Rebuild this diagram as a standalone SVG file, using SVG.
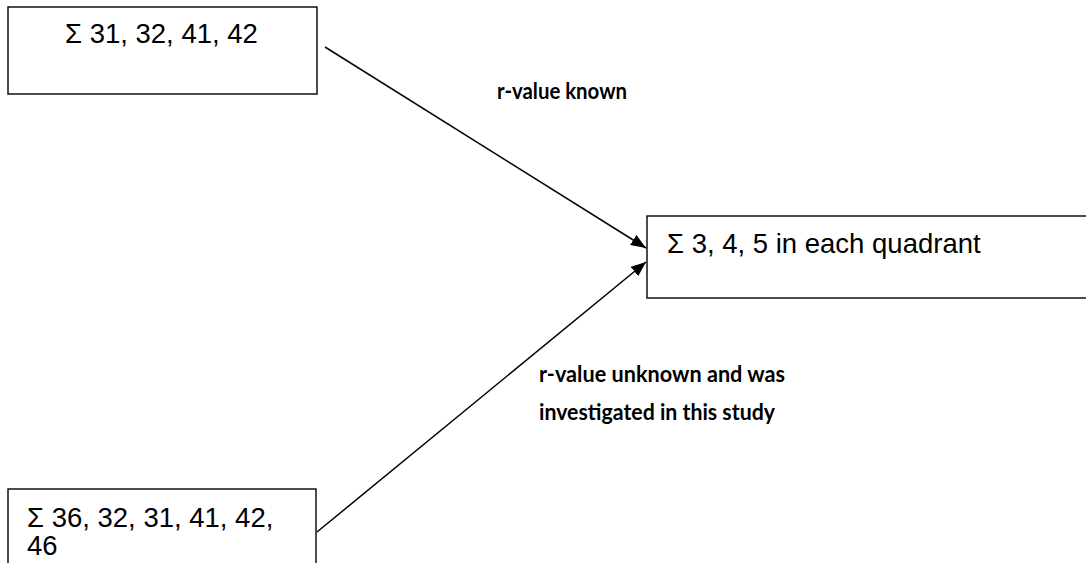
<svg xmlns="http://www.w3.org/2000/svg" width="1086" height="563" viewBox="0 0 1086 563">
<style>
.box{fill:#fff;stroke:#000;stroke-width:1.4}
.t{font-family:"Liberation Sans",Arial,sans-serif;font-size:27.5px;fill:#000}
.lbl{font-family:Lato,"Open Sans",sans-serif;font-weight:bold;font-size:22px;fill:#000}
.c{stroke:#000;stroke-width:1.5;fill:none;marker-end:url(#ah)}
</style>
<defs>
<marker id="ah" viewBox="0 0 15 12" refX="15" refY="6" markerWidth="15" markerHeight="12" markerUnits="userSpaceOnUse" orient="auto">
<path d="M0,0 L15,6 L0,12 Z" fill="#000"/>
</marker>
</defs>
<rect width="1086" height="563" fill="#fff"/>
<g id="connectors">
<line class="c" x1="325" y1="47" x2="646" y2="248"/>
<line class="c" x1="317" y1="532" x2="646" y2="262"/>
<text class="lbl" x="497" y="99" textLength="130" lengthAdjust="spacingAndGlyphs">r-value known</text>
<text class="lbl" x="539" y="382" textLength="246" lengthAdjust="spacingAndGlyphs">r-value unknown and was</text>
<text class="lbl" x="539" y="420" textLength="236" lengthAdjust="spacingAndGlyphs">investigated in this study</text>
</g>
<g id="node-top">
<rect class="box" x="8" y="7" width="309" height="87"/>
<text class="t" x="65" y="43">Σ 31, 32, 41, 42</text>
</g>
<g id="node-right">
<rect class="box" x="647" y="216" width="460" height="82"/>
<text class="t" x="667" y="253">Σ 3, 4, 5 in each quadrant</text>
</g>
<g id="node-bottom">
<rect class="box" x="8" y="489" width="308" height="100"/>
<text class="t" x="27" y="527">Σ 36, 32, 31, 41, 42,</text>
<text class="t" x="27" y="555">46</text>
</g>
</svg>
